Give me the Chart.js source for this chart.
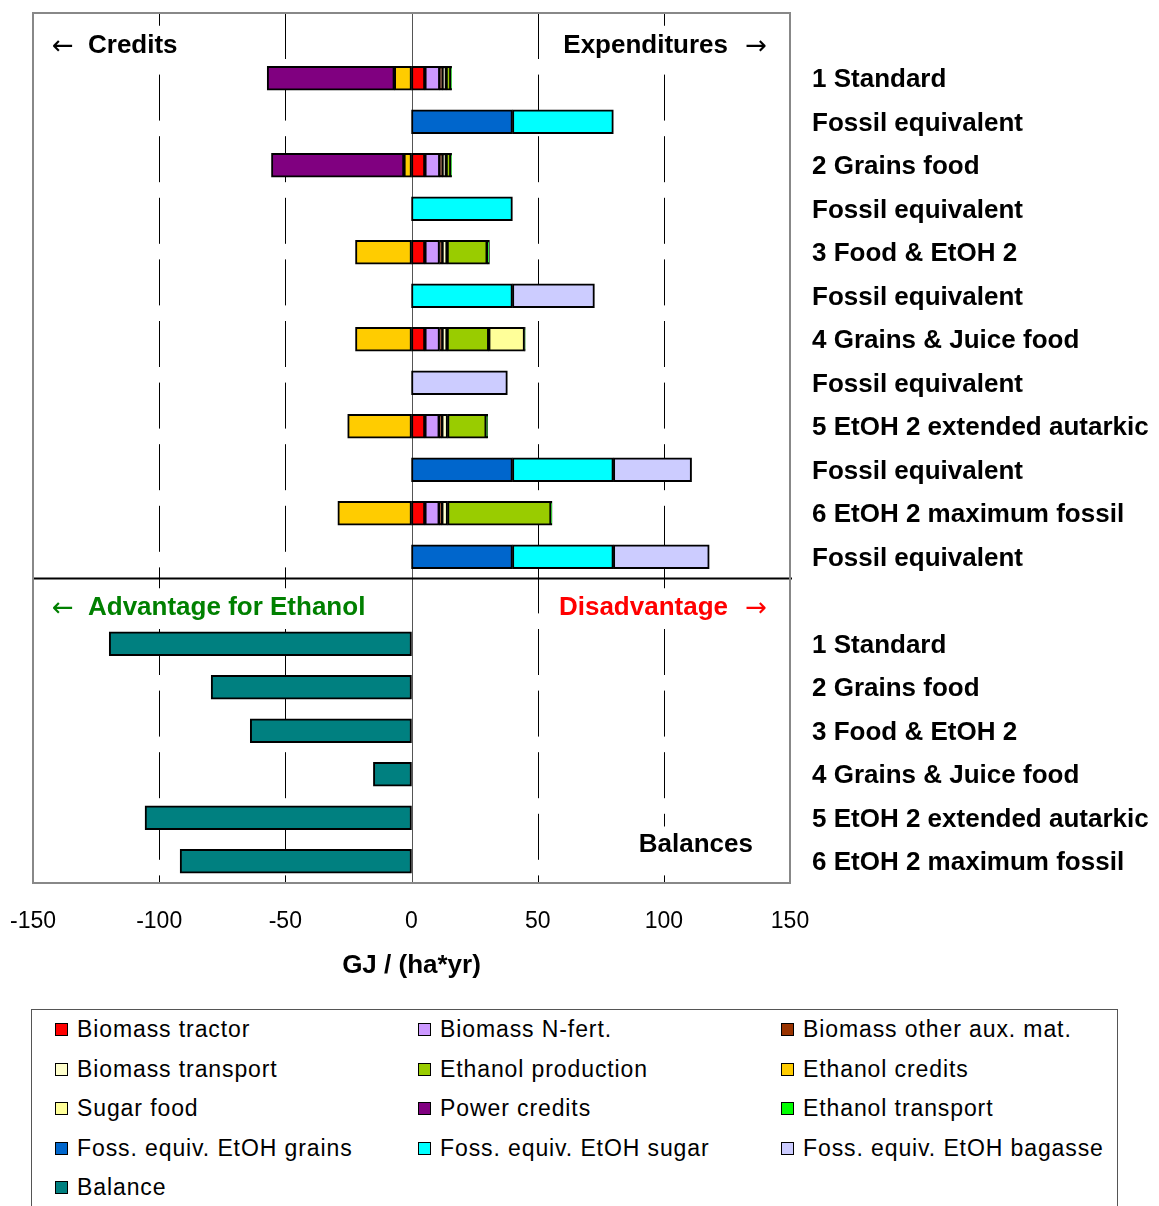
<!DOCTYPE html>
<html>
<head>
<meta charset="utf-8">
<script src="https://cdn.jsdelivr.net/npm/chart.js@4.4.0/dist/chart.umd.min.js"></script>
<style>
body { margin: 0; background: #fff; font-family: "Liberation Sans", Arial, sans-serif; }
#wrap { position: relative; width: 1159px; height: 1206px; overflow: hidden; }
#chartBox { position: absolute; left: 0; top: 0; width: 1159px; height: 1000px; }
#legend { position: absolute; left: 31px; top: 1009px; width: 1087px; height: 230px; border: 1px solid #555; box-sizing: border-box;
  display: grid; grid-template-columns: 363px 363px 1fr; grid-auto-rows: 39.5px; padding-left: 23px; }
.item { display: flex; align-items: center; font-size: 23px; letter-spacing: 0.9px; color: #000; white-space: nowrap; }
.box { width: 11px; height: 11px; border: 1.5px solid #000; margin-right: 9px; flex: none; }
</style>
</head>
<body>
<div id="wrap">
  <div id="chartBox"><canvas id="chart" width="1159" height="1000"></canvas></div>
  <div id="legend"></div>
</div>
<script>
const _ = null;

// rows: header, 12 scenario rows, header, 6 balance rows
const categories = ['', '1 Standard', 'Fossil equivalent', '2 Grains food', 'Fossil equivalent',
    '3 Food & EtOH 2', 'Fossil equivalent', '4 Grains & Juice food', 'Fossil equivalent',
    '5 EtOH 2 extended autarkic', 'Fossil equivalent', '6 EtOH 2 maximum fossil', 'Fossil equivalent',
    '', '1 Standard', '2 Grains food', '3 Food & EtOH 2', '4 Grains & Juice food',
    '5 EtOH 2 extended autarkic', '6 EtOH 2 maximum fossil'];

const biomassTractor    = [_, 5.3, _, 5.3, _, 5.3, _, 5.3, _, 5.3, _, 5.3, _, _, _, _, _, _, _, _];
const biomassNFert      = [_, 5.9, _, 5.9, _, 5.8, _, 5.8, _, 5.7, _, 5.7, _, _, _, _, _, _, _, _];
const biomassOtherAux   = [_, 1.0, _, 1.0, _, 1.0, _, 1.0, _, 1.0, _, 1.0, _, _, _, _, _, _, _, _];
const biomassTransport  = [_, 1.5, _, 1.5, _, 2.0, _, 2.0, _, 2.3, _, 2.3, _, _, _, _, _, _, _, _];
const ethanolProduction = [_, 1.9, _, 1.9, _, 15.9, _, 16.5, _, 15.3, _, 41.0, _, _, _, _, _, _, _, _];
const ethanolCredits    = [_, -6.8, _, -3.0, _, -22.2, _, -22.2, _, -25.3, _, -29.2, _, _, _, _, _, _, _, _];
const sugarFood         = [_, _, _, _, _, _, _, 14.2, _, _, _, _, _, _, _, _, _, _, _, _];
const powerCredits      = [_, -50.4, _, -52.5, _, _, _, _, _, _, _, _, _, _, _, _, _, _, _, _];
const ethanolTransport  = [_, 0.3, _, 0.3, _, 0.9, _, 0.3, _, 0.6, _, 0.4, _, _, _, _, _, _, _, _];
const fossGrains        = [_, _, 40, _, _, _, _, _, _, _, 40, _, 40, _, _, _, _, _, _, _];
const fossSugar         = [_, _, 40, _, 40, _, 40, _, _, _, 40, _, 40, _, _, _, _, _, _, _];
const fossBagasse       = [_, _, _, _, _, _, 32.5, _, 38.0, _, 31.0, _, 38.0, _, _, _, _, _, _, _];
const balance           = [_, _, _, _, _, _, _, _, _, _, _, _, _, _, -119.8, -79.4, -63.9, -15.1, -105.6, -91.7];

const xTicks = [-150, -100, -50, 0, 50, 100, 150];
const dashedAt = [-100, -50, 50, 100];

const series = [
    ['Biomass tractor', biomassTractor, '#FF0000'],
    ['Biomass N-fert.', biomassNFert, '#CC99FF'],
    ['Biomass other aux. mat.', biomassOtherAux, '#993300'],
    ['Biomass transport', biomassTransport, '#FFFFCC'],
    ['Ethanol production', ethanolProduction, '#99CC00'],
    ['Ethanol credits', ethanolCredits, '#FFCC00'],
    ['Sugar food', sugarFood, '#FFFF99'],
    ['Power credits', powerCredits, '#800080'],
    ['Ethanol transport', ethanolTransport, '#00FF00'],
    ['Foss. equiv. EtOH grains', fossGrains, '#0066CC'],
    ['Foss. equiv. EtOH sugar', fossSugar, '#00FFFF'],
    ['Foss. equiv. EtOH bagasse', fossBagasse, '#CCCCFF'],
    ['Balance', balance, '#008080']
];

const FONT = '"Liberation Sans", Arial, sans-serif';
const ARROW_FONT = '26px "DejaVu Sans", sans-serif';

function headerText(ctx, txt, arrow, arrowLeft, xEdge, yMid, color) {
    ctx.textBaseline = 'middle';
    ctx.font = 'bold 26px ' + FONT;
    const tw = ctx.measureText(txt).width;
    const x0 = arrowLeft ? xEdge : xEdge - 39 - tw;
    ctx.fillStyle = '#fff';
    ctx.fillRect(x0 - 4, yMid - 20, tw + 46, 40);
    ctx.fillStyle = color;
    if (arrowLeft) {
        ctx.font = ARROW_FONT;
        ctx.textAlign = 'left';
        ctx.fillText(arrow, xEdge, yMid + 1);
        ctx.font = 'bold 26px ' + FONT;
        ctx.fillText(txt, xEdge + 36, yMid);
    } else {
        ctx.font = 'bold 26px ' + FONT;
        ctx.textAlign = 'left';
        ctx.fillText(txt, x0, yMid);
        ctx.font = ARROW_FONT;
        ctx.textAlign = 'right';
        ctx.fillText(arrow, xEdge, yMid + 1);
    }
}

const overlay = {
    id: 'overlay',
    beforeDatasetsDraw(chart) {
        const { ctx, chartArea: a, scales: { x } } = chart;
        ctx.save();
        ctx.lineWidth = 1;
        ctx.strokeStyle = '#000';
        ctx.setLineDash([46, 15.6]);
        dashedAt.forEach(v => {
            const px = Math.round(x.getPixelForValue(v)) + 0.5;
            ctx.beginPath();
            ctx.moveTo(px, a.top);
            ctx.lineTo(px, a.bottom);
            ctx.stroke();
        });
        ctx.setLineDash([]);
        ctx.strokeStyle = '#555';
        const z = Math.round(x.getPixelForValue(0)) + 0.5;
        ctx.beginPath();
        ctx.moveTo(z, a.top);
        ctx.lineTo(z, a.bottom);
        ctx.stroke();
        ctx.restore();
    },
    afterDatasetsDraw(chart) {
        const { ctx, chartArea: a, scales: { y } } = chart;
        ctx.save();
        const yTop = y.getPixelForValue(0) + 11;
        const yBot = y.getPixelForValue(13) + 8;
        headerText(ctx, 'Credits', '\u2190', true, a.left + 19, yTop, '#000');
        headerText(ctx, 'Expenditures', '\u2192', false, a.right - 23, yTop, '#000');
        headerText(ctx, 'Advantage for Ethanol', '\u2190', true, a.left + 19, yBot, '#008000');
        headerText(ctx, 'Disadvantage', '\u2192', false, a.right - 23, yBot, '#FF0000');

        // Balances label
        ctx.font = 'bold 26px ' + FONT;
        ctx.textAlign = 'right';
        ctx.textBaseline = 'middle';
        const yb = (y.getPixelForValue(18) + y.getPixelForValue(19)) / 2 + 5;
        const bw = ctx.measureText('Balances').width;
        ctx.fillStyle = '#fff';
        ctx.fillRect(a.right - 37 - bw - 4, yb - 18, bw + 8, 36);
        ctx.fillStyle = '#000';
        ctx.fillText('Balances', a.right - 37, yb);

        // divider between the two panels
        const yd = (y.getPixelForValue(12) + y.getPixelForValue(13)) / 2;
        ctx.strokeStyle = '#000';
        ctx.lineWidth = 2;
        ctx.beginPath();
        ctx.moveTo(a.left, yd);
        ctx.lineTo(a.right + 2, yd);
        ctx.stroke();

        // plot frame
        ctx.strokeStyle = '#888';
        ctx.lineWidth = 2;
        ctx.strokeRect(a.left, a.top, a.right - a.left, a.bottom - a.top);
        ctx.restore();
    }
};

const ctx = document.getElementById('chart').getContext('2d');
const chart = new Chart(ctx, {
    type: 'bar',
    data: {
        labels: categories,
        datasets: series.map(s => ({
            label: s[0],
            data: s[1],
            backgroundColor: s[2],
            borderColor: '#000',
            borderWidth: 2,
            borderSkipped: false,
            barThickness: 24
        }))
    },
    options: {
        indexAxis: 'y',
        responsive: false,
        animation: false,
        layout: { padding: { left: 33, top: 13, right: 0, bottom: 0 } },
        plugins: {
            legend: { display: false },
            tooltip: { enabled: false }
        },
        scales: {
            x: {
                stacked: true,
                min: -150,
                max: 150,
                afterBuildTicks: scale => { scale.ticks = xTicks.map(v => ({ value: v })); },
                grid: { display: false, drawTicks: false },
                border: { display: false },
                ticks: { color: '#000', font: { family: FONT, size: 23 }, padding: 25, maxRotation: 0 },
                title: { display: true, text: 'GJ / (ha*yr)', color: '#000', font: { family: FONT, size: 26, weight: 'bold' }, padding: { top: 4, bottom: 19 } },
                afterFit: scale => {
                    scale.height = 117;
                    scale.paddingLeft = 0;
                    scale.paddingRight = 0;
                }
            },
            y: {
                stacked: true,
                position: 'right',
                grid: { display: false, drawTicks: false },
                border: { display: false },
                ticks: { color: '#000', autoSkip: false, padding: 22, labelOffset: 2, font: { family: FONT, size: 26, weight: 'bold' } },
                afterFit: scale => {
                    scale.width = 369;
                    scale.paddingTop = 0;
                    scale.paddingBottom = 0;
                }
            }
        }
    },
    plugins: [overlay]
});

// legend in three columns
const legendEl = document.getElementById('legend');
series.forEach(s => {
    const item = document.createElement('div');
    item.className = 'item';
    const box = document.createElement('span');
    box.className = 'box';
    box.style.background = s[2];
    item.appendChild(box);
    item.appendChild(document.createTextNode(s[0]));
    legendEl.appendChild(item);
});
</script>
</body>
</html>
